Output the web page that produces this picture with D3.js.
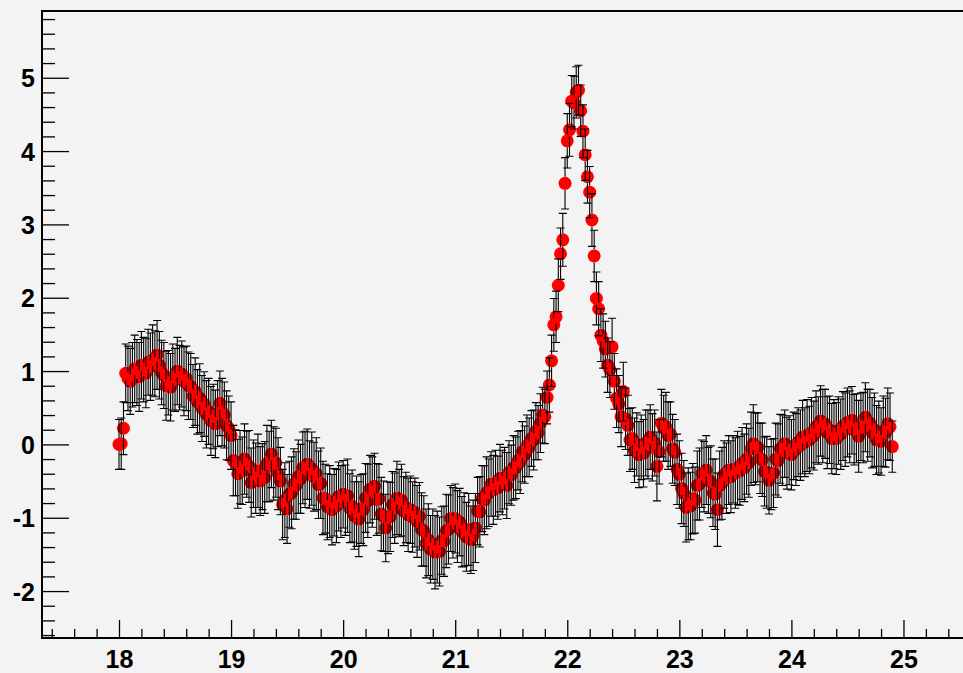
<!DOCTYPE html>
<html><head><meta charset="utf-8">
<script src="https://cdn.jsdelivr.net/npm/d3@7/dist/d3.min.js"></script>
<style>html,body{margin:0;padding:0;background:#f3f3f3;}svg{display:block;}</style>
</head><body>
<svg id="chart" width="963" height="673"></svg>
<script>
// sampling grid of the measurement (x from 18.00 to 24.90)
const xStart = 18.0;
const xStep = 0.02;

// measured values, one per grid point
const yValues = [
  0.00, 0.01, 0.22, 0.97, 0.90, 0.86, 0.95, 1.03, 0.98, 0.92,
  1.08, 1.02, 0.97, 1.12, 1.06, 1.15, 1.10, 1.22, 1.08, 0.98,
  0.94, 0.80, 0.84, 0.78, 0.92, 0.88, 1.00, 0.91, 0.96, 0.86,
  0.90, 0.80, 0.79, 0.66, 0.72, 0.58, 0.63, 0.49, 0.55, 0.41,
  0.45, 0.32, 0.38, 0.28, 0.42, 0.56, 0.44, 0.40, 0.26, 0.22,
  0.12, -0.22, -0.25, -0.40, -0.31, -0.36, -0.20, -0.27, -0.30, -0.52,
  -0.40, -0.46, -0.36, -0.50, -0.44, -0.45, -0.26, -0.30, -0.13, -0.26,
  -0.25, -0.40, -0.50, -0.82, -0.76, -0.88, -0.68, -0.66, -0.54, -0.56,
  -0.44, -0.47, -0.32, -0.34, -0.27, -0.41, -0.33, -0.44, -0.40, -0.55,
  -0.53, -0.73, -0.74, -0.85, -0.78, -0.89, -0.79, -0.84, -0.71, -0.78,
  -0.68, -0.76, -0.70, -0.87, -0.84, -0.97, -0.91, -1.02, -0.88, -0.89,
  -0.73, -0.77, -0.61, -0.65, -0.57, -0.75, -0.74, -0.95, -0.98, -1.14,
  -1.00, -0.99, -0.82, -0.87, -0.73, -0.80, -0.76, -0.91, -0.86, -0.96,
  -0.89, -0.99, -0.93, -1.05, -0.98, -1.16, -1.18, -1.35, -1.30, -1.43,
  -1.36, -1.47, -1.40, -1.46, -1.31, -1.32, -1.18, -1.16, -1.01, -1.07,
  -1.01, -1.12, -1.06, -1.19, -1.16, -1.26, -1.16, -1.30, -1.24, -1.14,
  -0.91, -0.92, -0.74, -0.76, -0.66, -0.66, -0.54, -0.62, -0.53, -0.59,
  -0.46, -0.52, -0.46, -0.56, -0.38, -0.42, -0.32, -0.32, -0.22, -0.24,
  -0.10, -0.14, -0.02, -0.04, 0.08, 0.06, 0.18, 0.16, 0.29, 0.40,
  0.38, 0.64, 0.81, 1.14, 1.63, 1.74, 2.17, 2.60, 2.79, 3.56,
  4.14, 4.29, 4.68, 4.66, 4.80, 4.83, 4.55, 4.27, 3.95, 3.65,
  3.44, 3.06, 2.57, 1.99, 1.85, 1.49, 1.41, 1.30, 1.08, 1.02,
  1.33, 0.86, 0.63, 0.55, 0.38, 0.72, 0.35, 0.26, 0.06, 0.08,
  -0.08, 0.00, -0.14, -0.04, -0.12, 0.02, 0.00, 0.10, -0.04, 0.02,
  -0.30, -0.10, 0.29, 0.22, 0.24, 0.12, 0.14, -0.06, -0.11, -0.34,
  -0.41, -0.60, -0.67, -0.86, -0.81, -0.84, -0.74, -0.76, -0.56, -0.54,
  -0.40, -0.44, -0.35, -0.49, -0.51, -0.66, -0.68, -0.89, -0.56, -0.53,
  -0.41, -0.46, -0.35, -0.44, -0.34, -0.39, -0.32, -0.36, -0.26, -0.32,
  -0.20, -0.25, -0.06, 0.01, -0.06, -0.04, -0.19, -0.21, -0.37, -0.38,
  -0.49, -0.41, -0.39, -0.20, -0.22, -0.06, -0.08, 0.01, -0.12, -0.08,
  -0.14, -0.02, -0.07, 0.03, -0.01, 0.10, 0.03, 0.12, 0.06, 0.16,
  0.12, 0.24, 0.19, 0.32, 0.25, 0.28, 0.16, 0.20, 0.08, 0.14,
  0.08, 0.19, 0.14, 0.25, 0.20, 0.30, 0.24, 0.33, 0.20, 0.22,
  0.11, 0.24, 0.23, 0.37, 0.26, 0.29, 0.16, 0.20, 0.06, 0.10,
  0.04, 0.18, 0.16, 0.28, 0.24, -0.03
];

// symmetric errors, one per grid point
const yErrors = [
  0.34, 0.35, 0.36, 0.40, 0.44, 0.45, 0.44, 0.46, 0.45, 0.47,
  0.46, 0.44, 0.47, 0.45, 0.46, 0.48, 0.45, 0.47, 0.46, 0.44,
  0.45, 0.47, 0.44, 0.46, 0.45, 0.43, 0.46, 0.44, 0.45, 0.47,
  0.44, 0.46, 0.45, 0.43, 0.46, 0.44, 0.47, 0.45, 0.44, 0.46,
  0.45, 0.47, 0.44, 0.46, 0.45, 0.44, 0.46, 0.45, 0.47, 0.44,
  0.46, 0.48, 0.45, 0.47, 0.50, 0.46, 0.48, 0.45, 0.49, 0.47,
  0.46, 0.48, 0.50, 0.47, 0.45, 0.49, 0.52, 0.48, 0.46, 0.50,
  0.47, 0.49, 0.46, 0.48, 0.51, 0.47, 0.45, 0.49, 0.48, 0.46,
  0.50, 0.47, 0.49, 0.52, 0.48, 0.46, 0.50, 0.47, 0.49, 0.46,
  0.48, 0.50, 0.47, 0.45, 0.49, 0.48, 0.46, 0.50, 0.47, 0.49,
  0.46, 0.48, 0.50, 0.47, 0.49, 0.46, 0.48, 0.51, 0.47, 0.49,
  0.47, 0.50, 0.46, 0.48, 0.45, 0.49, 0.47, 0.50, 0.48, 0.46,
  0.49, 0.47, 0.45, 0.48, 0.50, 0.46, 0.49, 0.47, 0.48, 0.50,
  0.46, 0.48, 0.47, 0.49, 0.46, 0.50, 0.48, 0.47, 0.49, 0.46,
  0.48, 0.50, 0.49, 0.47, 0.46, 0.48, 0.50, 0.47, 0.45, 0.48,
  0.47, 0.49, 0.46, 0.48, 0.50, 0.47, 0.49, 0.46, 0.48, 0.47,
  0.46, 0.48, 0.45, 0.47, 0.49, 0.46, 0.44, 0.47, 0.45, 0.43,
  0.46, 0.44, 0.42, 0.45, 0.43, 0.41, 0.44, 0.42, 0.40, 0.43,
  0.41, 0.39, 0.42, 0.40, 0.38, 0.41, 0.39, 0.37, 0.40, 0.38,
  0.37, 0.36, 0.37, 0.35, 0.36, 0.35, 0.36, 0.35, 0.36, 0.35,
  0.37, 0.36, 0.35, 0.36, 0.35, 0.34, 0.35, 0.36, 0.35, 0.36,
  0.35, 0.36, 0.35, 0.36, 0.37, 0.36, 0.37, 0.38, 0.37, 0.38,
  0.39, 0.38, 0.40, 0.39, 0.41, 0.40, 0.42, 0.41, 0.43, 0.42,
  0.44, 0.43, 0.45, 0.44, 0.46, 0.45, 0.47, 0.44, 0.46, 0.45,
  0.47, 0.44, 0.46, 0.45, 0.47, 0.46, 0.44, 0.47, 0.45, 0.48,
  0.46, 0.48, 0.45, 0.47, 0.49, 0.46, 0.48, 0.45, 0.47, 0.49,
  0.46, 0.48, 0.47, 0.45, 0.49, 0.46, 0.48, 0.50, 0.47, 0.49,
  0.46, 0.48, 0.47, 0.49, 0.46, 0.48, 0.50, 0.47, 0.49, 0.46,
  0.48, 0.47, 0.50, 0.53, 0.49, 0.47, 0.48, 0.50, 0.47, 0.49,
  0.46, 0.48, 0.47, 0.49, 0.50, 0.47, 0.48, 0.46, 0.49, 0.47,
  0.48, 0.46, 0.49, 0.47, 0.48, 0.50, 0.47, 0.49, 0.46, 0.48,
  0.47, 0.49, 0.46, 0.48, 0.50, 0.47, 0.49, 0.46, 0.48, 0.47,
  0.49, 0.46, 0.48, 0.47, 0.50, 0.47, 0.49, 0.46, 0.48, 0.47,
  0.49, 0.46, 0.48, 0.47, 0.49, 0.46, 0.48, 0.50, 0.47, 0.49,
  0.46, 0.48, 0.47, 0.49, 0.46, 0.35
];

const xTickValues = [18, 19, 20, 21, 22, 23, 24, 25];
const xTickLabels = ["18", "19", "20", "21", "22", "23", "24", "25"];
const yTickValues = [-2, -1, 0, 1, 2, 3, 4, 5];
const yTickLabels = ["-2", "-1", "0", "1", "2", "3", "4", "5"];
const xDomain = [17.313, 25.59];
const yDomain = [-2.64, 5.91];

(function draw() {
  const W = 963, H = 673;
  const padL = 42, padT = 11, padB = 638, rightEdge = 969.6;
  const svg = d3.select("#chart");
  svg.append("rect").attr("width", W).attr("height", H).attr("fill", "#f3f3f3");

  const x = d3.scaleLinear().domain(xDomain).range([padL, rightEdge]);
  const y = d3.scaleLinear().domain(yDomain).range([padB, padT]);

  const data = yValues.map((v, i) => ({
    x: +(xStart + i * xStep).toFixed(2), y: v, e: yErrors[i]
  }));

  // markers first, then error bars (bars leave a gap around their own marker)
  const r = 6.5, cap = 4;
  const plot = svg.append("g");
  plot.selectAll("circle").data(data).join("circle")
    .attr("cx", d => x(d.x)).attr("cy", d => y(d.y)).attr("r", r).attr("fill", "#ff0000");
  plot.selectAll("path.err").data(data).join("path").attr("class", "err")
    .attr("d", d => {
      const cx = x(d.x), cy = y(d.y);
      const yT = y(d.y + d.e), yB = y(d.y - d.e);
      let p = "";
      if (cy - yT > r) p += `M${cx},${cy - r}V${yT}`;
      if (yB - cy > r) p += `M${cx},${cy + r}V${yB}`;
      p += `M${cx - cap},${yT}H${cx + cap}M${cx - cap},${yB}H${cx + cap}`;
      return p;
    })
    .attr("fill", "none").attr("stroke", "#000").attr("stroke-width", 1.1);

  const fontFam = "'Liberation Sans', Arial, Helvetica, sans-serif";
  const xMinor = d3.range(17.4, 25.5, 0.2).map(v => +v.toFixed(1)).filter(v => Math.abs(v - Math.round(v)) > 1e-6);
  const yMinor = d3.range(-2.6, 5.9, 0.2).map(v => +v.toFixed(1)).filter(v => Math.abs(v - Math.round(v)) > 1e-6);

  const gx = svg.append("g").attr("transform", `translate(0,${padB})`);
  gx.call(d3.axisBottom(x).tickValues(xTickValues).tickFormat((d, i) => xTickLabels[i]).tickSize(-18).tickSizeOuter(0).tickPadding(14));
  gx.select(".domain").remove();
  gx.append("g").call(d3.axisBottom(x).tickValues(xMinor).tickFormat("").tickSize(-9).tickSizeOuter(0))
    .select(".domain").remove();
  gx.selectAll("line").attr("stroke", "#000").attr("stroke-width", 1.3);
  gx.selectAll("text").attr("font-family", fontFam).attr("font-size", 25).attr("font-weight", "bold")
    .attr("fill", "#000").attr("dy", null).attr("y", 30);

  const gy = svg.append("g").attr("transform", `translate(${padL},0)`);
  gy.call(d3.axisLeft(y).tickValues(yTickValues).tickFormat((d, i) => yTickLabels[i]).tickSize(-27).tickSizeOuter(0).tickPadding(7));
  gy.select(".domain").remove();
  gy.append("g").call(d3.axisLeft(y).tickValues(yMinor).tickFormat("").tickSize(-13).tickSizeOuter(0))
    .select(".domain").remove();
  gy.selectAll("line").attr("stroke", "#000").attr("stroke-width", 1.3);
  gy.selectAll("text").attr("font-family", fontFam).attr("font-size", 25).attr("font-weight", "bold")
    .attr("fill", "#000").attr("dy", "0.36em");

  svg.append("path")
    .attr("d", `M${W + 2},${padT}H${padL}V${padB}H${W + 2}`)
    .attr("fill", "none").attr("stroke", "#000").attr("stroke-width", 2);
})();
</script>
</body></html>
